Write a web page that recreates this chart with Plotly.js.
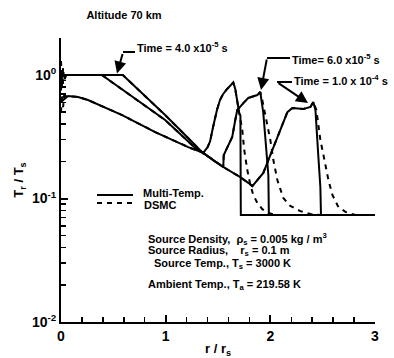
<!DOCTYPE html>
<html>
<head>
<meta charset="utf-8">
<script src="https://cdn.plot.ly/plotly-3.0.1.min.js"></script>
<style>html,body{margin:0;padding:0;background:#fff;}#chart{width:394px;height:358px;}</style>
</head>
<body>
<div id="chart"></div>
<script>
// r / r_s positions and T_r / T_s values
var xMT_t4 = [0, 0.05, 0.59, 0.995, 1.215, 1.357, 1.40, 1.424, 1.453, 1.49, 1.519, 1.548, 1.586, 1.634, 1.646, 1.665, 1.684, 1.703, 1.714, 1.718, 3.0];
var yMT_t4 = [0.97, 1.0, 1.0, 0.474, 0.309, 0.233, 0.26, 0.29, 0.379, 0.521, 0.627, 0.70, 0.77, 0.85, 0.87, 0.77, 0.6, 0.49, 0.47, 0.0735, 0.0735];

var xMT_t6 = [0, 0.05, 0.39, 0.995, 1.282, 1.359, 1.45, 1.550, 1.555, 1.598, 1.636, 1.665, 1.684, 1.742, 1.789, 1.876, 1.904, 1.933, 1.952, 1.971, 1.981, 1.986, 3.0];
var yMT_t6 = [0.97, 1.0, 1.0, 0.432, 0.257, 0.234, 0.205, 0.180, 0.225, 0.271, 0.315, 0.432, 0.521, 0.593, 0.652, 0.689, 0.728, 0.492, 0.315, 0.194, 0.155, 0.0735, 0.0735];

var xMT_t10 = [0, 0.067, 0.163, 0.258, 0.584, 0.90, 1.215, 1.359, 1.550, 1.713, 1.789, 1.828, 1.876, 1.933, 2.0, 2.067, 2.115, 2.163, 2.211, 2.316, 2.383, 2.411, 2.431, 2.45, 2.459, 2.478, 2.484, 3.0];
var yMT_t10 = [0.605, 0.676, 0.664, 0.628, 0.474, 0.345, 0.261, 0.234, 0.180, 0.149, 0.134, 0.126, 0.141, 0.161, 0.225, 0.315, 0.409, 0.501, 0.541, 0.531, 0.551, 0.605, 0.521, 0.315, 0.217, 0.124, 0.0735, 0.0735];

var xDS_t4 = [0, 0.01, 0.02, 0.03, 0.05, 0.59, 0.995, 1.215, 1.357, 1.40, 1.424, 1.453, 1.49, 1.519, 1.548, 1.586, 1.634, 1.646, 1.665, 1.684, 1.703, 1.732, 1.751, 1.780, 1.809, 1.837, 1.876, 1.923, 1.981, 2.048];
var yDS_t4 = [1.3, 0.8, 1.15, 0.9, 1.0, 1.0, 0.474, 0.309, 0.233, 0.26, 0.29, 0.379, 0.521, 0.627, 0.70, 0.77, 0.85, 0.87, 0.77, 0.6, 0.49, 0.359, 0.247, 0.170, 0.129, 0.107, 0.092, 0.082, 0.0763, 0.0735];

var xDS_t6 = [0, 0.01, 0.02, 0.04, 0.39, 0.995, 1.282, 1.359, 1.45, 1.550, 1.555, 1.598, 1.636, 1.665, 1.684, 1.742, 1.789, 1.876, 1.904, 1.923, 1.962, 2.0, 2.029, 2.067, 2.124, 2.191, 2.287, 2.383, 2.478];
var yDS_t6 = [0.75, 1.1, 0.85, 1.0, 1.0, 0.432, 0.257, 0.234, 0.205, 0.180, 0.225, 0.271, 0.315, 0.432, 0.521, 0.593, 0.652, 0.689, 0.728, 0.628, 0.432, 0.298, 0.205, 0.141, 0.101, 0.087, 0.079, 0.075, 0.0735];

var xDS_t10 = [0, 0.01, 0.02, 0.03, 0.067, 0.163, 0.258, 0.584, 0.90, 1.215, 1.359, 1.550, 1.713, 1.789, 1.828, 1.876, 1.933, 2.0, 2.067, 2.115, 2.163, 2.211, 2.316, 2.383, 2.411, 2.44, 2.478, 2.517, 2.555, 2.593, 2.651, 2.718, 2.813];
var yDS_t10 = [0.5, 0.7, 0.55, 0.68, 0.676, 0.664, 0.628, 0.474, 0.345, 0.261, 0.234, 0.180, 0.149, 0.134, 0.126, 0.141, 0.161, 0.225, 0.315, 0.409, 0.501, 0.541, 0.531, 0.551, 0.605, 0.521, 0.298, 0.205, 0.141, 0.107, 0.085, 0.078, 0.0735];

var yTickVals = [0.01, 0.1, 1];
var yTickText = ['10<sup>-2</sup>', '10<sup>-1</sup>', '10<sup>0</sup>'];
var yMinorVals = [0.02,0.03,0.04,0.05,0.06,0.07,0.08,0.09,0.2,0.3,0.4,0.5,0.6,0.7,0.8,0.9];

var FONT = 'Liberation Sans, Arial, Helvetica, sans-serif';
var DASH = '5px,5px';
var solid = {color: '#000', width: 2, dash: 'solid'};
var dashed = {color: '#000', width: 2, dash: DASH};

function tr(x, y, line, name) {
  return {x: x, y: y, type: 'scatter', mode: 'lines', line: line, name: name, showlegend: false, hoverinfo: 'skip'};
}

var data = [
  tr(xDS_t4, yDS_t4, dashed, 'DSMC'),
  tr(xDS_t6, yDS_t6, dashed, 'DSMC'),
  tr(xDS_t10, yDS_t10, dashed, 'DSMC'),
  tr(xMT_t4, yMT_t4, solid, 'Multi-Temp.'),
  tr(xMT_t6, yMT_t6, solid, 'Multi-Temp.'),
  tr(xMT_t10, yMT_t10, solid, 'Multi-Temp.')
];

function bf(size) { return {family: FONT, size: size, color: '#000', weight: 'bold'}; }

function txt(text, px, py, size) {
  return {xref: 'paper', yref: 'paper', x: (px - 61) / 314, y: (322 - py) / 284,
    xanchor: 'left', yanchor: 'middle', text: text, showarrow: false, font: bf(size)};
}
function arrow(xd, yd, ax, ay) {
  return {xref: 'x', yref: 'y', x: xd, y: Math.log10(yd), ax: ax, ay: ay, axref: 'pixel', ayref: 'pixel',
    text: '', showarrow: true, arrowhead: 2, arrowsize: 1.2, arrowwidth: 2, arrowcolor: '#000', standoff: 0};
}
function hline(px0, px1, py, dash) {
  return {type: 'line', xref: 'paper', yref: 'paper', x0: (px0 - 61) / 314, x1: (px1 - 61) / 314,
    y0: (322 - py) / 284, y1: (322 - py) / 284, line: {color: '#000', width: 2, dash: dash || 'solid'}};
}

var layout = {
  width: 394, height: 358,
  margin: {l: 61, r: 19, t: 38, b: 36, pad: 0},
  paper_bgcolor: '#fff', plot_bgcolor: '#fff',
  showlegend: false,
  title: {text: 'Altitude 70 km', font: bf(11), x: 124 / 394, xanchor: 'center', xref: 'container',
    y: 1 - 15 / 358, yanchor: 'middle', yref: 'container'},
  xaxis: {
    range: [0, 3], tick0: 0, dtick: 1, showgrid: false, zeroline: false,
    showline: true, linecolor: '#000', linewidth: 2,
    ticks: 'inside', ticklen: 7, tickwidth: 2, tickcolor: '#000',
    minor: {dtick: 0.2, tick0: 0, ticks: 'inside', ticklen: 5, tickwidth: 1.5, tickcolor: '#000', showgrid: false},
    tickfont: bf(14),
    title: {text: 'r / r<sub>s</sub>', font: bf(13), standoff: 1}
  },
  yaxis: {
    type: 'log', range: [-2, 0.3], showgrid: false, zeroline: false,
    showline: true, linecolor: '#000', linewidth: 2,
    tickmode: 'array', tickvals: yTickVals, ticktext: yTickText,
    ticks: 'inside', ticklen: 7, tickwidth: 2, tickcolor: '#000',
    minor: {tickmode: 'array', tickvals: yMinorVals, ticks: 'inside', ticklen: 5, tickwidth: 1.5, tickcolor: '#000', showgrid: false},
    tickfont: bf(14),
    title: {text: 'T<sub>r</sub> / T<sub>s</sub>', font: bf(13), standoff: 5}
  },
  shapes: [
    hline(123, 135, 52),
    hline(267, 290, 58),
    hline(277, 292, 82),
    hline(97, 133, 195),
    hline(97, 133, 203, DASH)
  ],
  annotations: [
    txt('Time = 4.0 x10<sup>-5</sup> s', 135, 47, 11),
    arrow(0.535, 1.03, 6, -21),
    txt('Time= 6.0 x10<sup>-5</sup> s', 290, 59, 11),
    arrow(1.911, 0.757, 6, -32),
    txt('Time = 1.0 x 10<sup>-4</sup> s', 292, 80, 11),
    arrow(2.36, 0.593, -31, -21),
    txt('Multi-Temp.', 141, 193, 11),
    txt('DSMC', 142, 205, 11),
    txt('Source Density,&nbsp;&nbsp;ρ<sub>s</sub> = 0.005 kg / m<sup>3</sup>', 146, 239, 11),
    txt('Source Radius,&nbsp;&nbsp;&nbsp;&nbsp;r<sub>s</sub> = 0.1 m', 146, 251, 11),
    txt('Source Temp., T<sub>s</sub> = 3000 K', 152, 264, 11),
    txt('Ambient Temp., T<sub>a</sub> = 219.58 K', 146, 285, 11)
  ]
};

Plotly.newPlot('chart', data, layout, {staticPlot: true, displayModeBar: false});
</script>
</body>
</html>
